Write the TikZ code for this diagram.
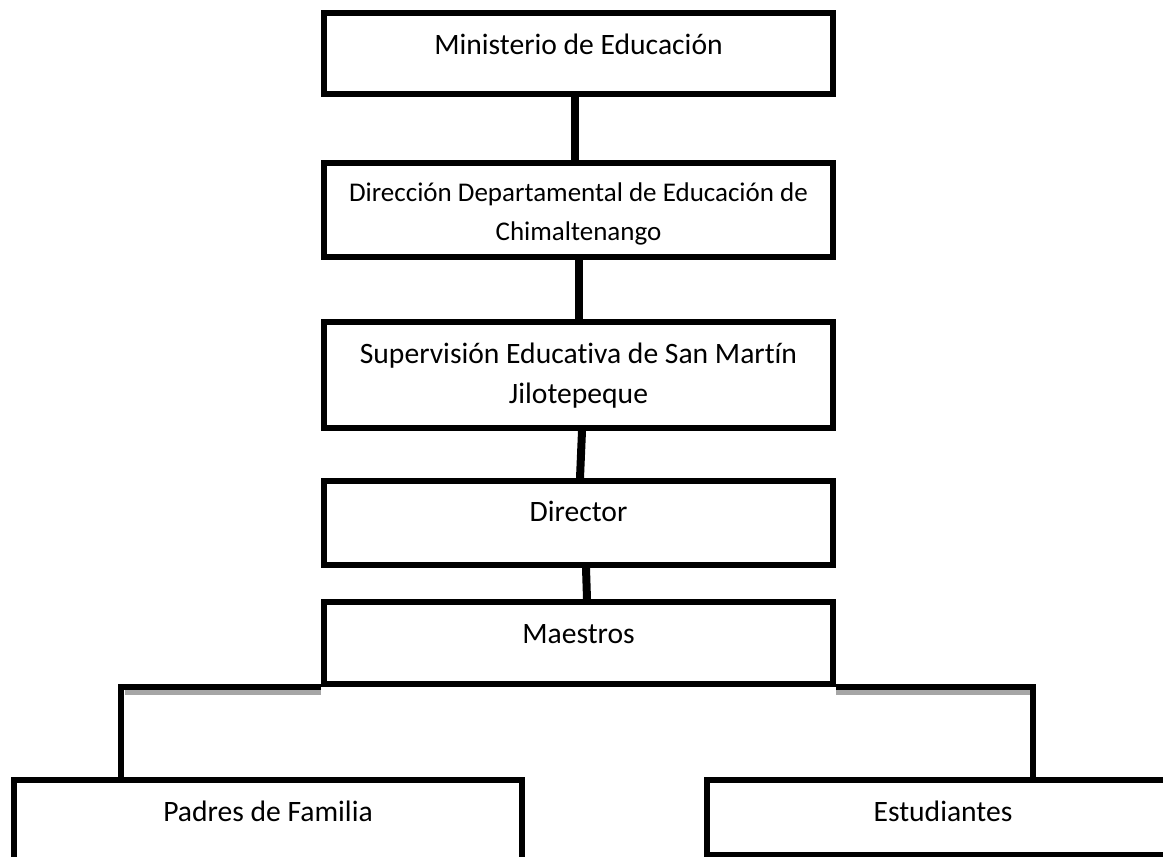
\documentclass[tikz,border=0pt]{standalone}
\usepackage{fontspec}
\setmainfont{Carlito}[Ligatures=NoCommon]
\usepackage{tikz}
\usetikzlibrary{arrows}

\begin{document}
\begin{tikzpicture}[x=1pt, y=-1pt,
  orgbox/.style={draw, line width=6pt, inner sep=0pt, anchor=north west, minimum width=509pt, font=\fontsize{29.6}{40}\selectfont},
  link/.style={line width=8pt},
  branch/.style={line width=6pt},
  shade/.style={line width=5pt, color=black!35}]
\useasboundingbox (0,0) rectangle (1163,857);
\clip (0,0) rectangle (1163,857);
\node[orgbox, text height=41pt, text depth=40pt] (min) at (321,10) {Ministerio de Educación};
\node[orgbox, align=center, text height=77pt, text depth=17pt, font=\fontsize{27}{39}\selectfont] (dep) at (321,160) {Dirección Departamental de Educación de\\Chimaltenango};
\node[orgbox, align=center, text height=81pt, text depth=25pt] (sup) at (321,319) {Supervisión Educativa de San Martín\\Jilotepeque};
\node[orgbox, text height=40pt, text depth=44pt] (dirc) at (321,478) {Director};
\node[orgbox, text height=41pt, text depth=41pt] (mae) at (321,599) {Maestros};
\node[orgbox, minimum width=508pt, text height=41pt, text depth=80pt] (pad) at (11,777) {Padres de Familia};
\node[orgbox, minimum width=472pt, text height=41pt, text depth=34pt] (est) at (704,777) {Estudiantes};
\draw[link] ([xshift=-3.5pt]min.south) -- ([xshift=-3.5pt]dep.north);
\draw[link] (dep.south) -- (sup.north);
\draw[link] ([xshift=3.5pt]sup.south) -- ([xshift=1.5pt]dirc.north);
\draw[link] ([xshift=7.5pt]dirc.south) -- ([xshift=8.5pt]mae.north);
\draw[shade] ([yshift=-5.5pt]mae.south west) -- ([xshift=114pt,yshift=-5.5pt]pad.north west |- mae.south west);
\draw[shade] ([yshift=-5.5pt]mae.south east) -- ([xshift=87pt,yshift=-5.5pt]est.north |- mae.south east);
\draw[branch] (mae.south west) -| ([xshift=110pt]pad.north west);
\draw[branch] (mae.south east) -| ([xshift=90pt]est.north);
\end{tikzpicture}
\end{document}
